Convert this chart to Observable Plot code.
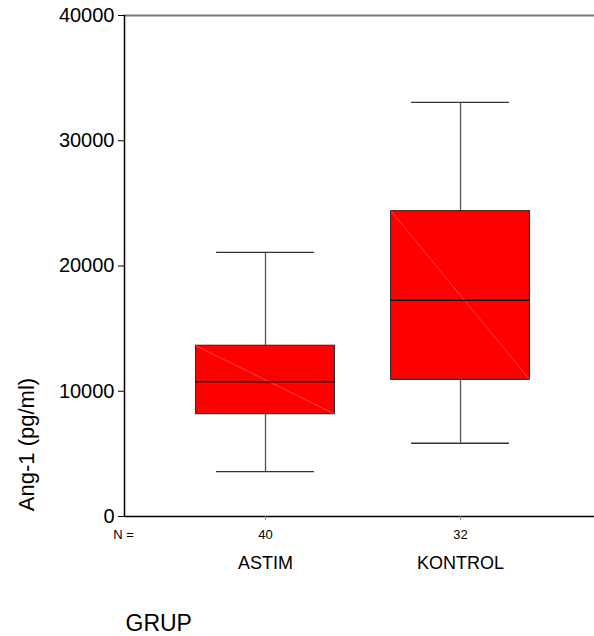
<!DOCTYPE html>
<html>
<head>
<meta charset="utf-8">
<script src="https://cdn.jsdelivr.net/npm/d3@7"></script>
<script src="https://cdn.jsdelivr.net/npm/@observablehq/plot@0.6"></script>
<style>
  html, body { margin: 0; padding: 0; background: #fff; overflow: hidden; }
  svg { display: block; font-family: "Liberation Sans", Arial, sans-serif; }
</style>
</head>
<body>
<div id="chart"></div>
<script>
// Data
const groups = ["ASTIM", "KONTROL"];
const counts = [40, 32];
const whiskerLow = [3590, 5850];
const q1 = [8170, 10910];
const median = [10750, 17250];
const q3 = [13630, 24380];
const whiskerHigh = [21080, 33060];
const yTicks = [0, 10000, 20000, 30000, 40000];

// layout constants (in x-units of group index)
const xDomain = [-0.723, 1.687];
const boxHalf = 0.356;
const capHalf = 0.251;

const rows = groups.map((g, i) => ({
  i, g, n: counts[i], lo: whiskerLow[i], q1: q1[i], med: median[i], q3: q3[i], hi: whiskerHigh[i]
}));

const chart = Plot.plot({
  width: 594,
  height: 636,
  marginLeft: 124,
  marginRight: 0,
  marginTop: 15,
  marginBottom: 120,
  style: { fontFamily: "'Liberation Sans', Arial, sans-serif", color: "#000", background: "#fff" },
  x: { type: "linear", domain: xDomain, axis: null },
  y: { domain: [0, 40000], axis: null },
  marks: [
    // whisker stems
    Plot.ruleX(rows, { x: "i", y1: "lo", y2: "hi", stroke: "#555", strokeWidth: 1.3 }),
    // whisker caps
    Plot.ruleY(rows, { y: "lo", x1: d => d.i - capHalf, x2: d => d.i + capHalf, stroke: "#333", strokeWidth: 1.3 }),
    Plot.ruleY(rows, { y: "hi", x1: d => d.i - capHalf, x2: d => d.i + capHalf, stroke: "#333", strokeWidth: 1.3 }),
    // boxes
    Plot.rect(rows, { x1: d => d.i - boxHalf, x2: d => d.i + boxHalf, y1: "q1", y2: "q3", fill: "#ff0000", stroke: "#333", strokeWidth: 1.2 }),
    // faint diagonal artefact
    Plot.link(rows, { x1: d => d.i - boxHalf, y1: "q3", x2: d => d.i + boxHalf, y2: "q1", stroke: "#ff7070", strokeWidth: 0.6 }),
    // medians
    Plot.ruleY(rows, { y: "med", x1: d => d.i - boxHalf, x2: d => d.i + boxHalf, stroke: "#000", strokeWidth: 1.2 }),
    // y axis
    Plot.axisY({ ticks: yTicks, tickFormat: d => String(d), tickSize: 6, tickPadding: 4, fontSize: 20, label: null, stroke: "#000" }),
    // top gray line
    Plot.ruleY([40000], { stroke: "#777", strokeWidth: 2.2 }),
    // bottom axis line
    Plot.ruleY([0], { stroke: "#000", strokeWidth: 1.5 }),
    // left axis line
    Plot.ruleX([xDomain[0]], { y1: 0, y2: 40000, stroke: "#000", strokeWidth: 1.5 }),
    // x axis: counts
    Plot.axisX({ ticks: [0, 1], tickFormat: i => counts[i], tickSize: 4, tickPadding: 9, fontSize: 13, label: null, stroke: "#888" }),
    // x axis: group names
    Plot.axisX({ ticks: [0, 1], tickFormat: i => groups[i], tickSize: 0, tickPadding: 40, fontSize: 18, label: null }),
    // N =
    Plot.text(["N ="], { frameAnchor: "bottom-left", dx: -1, dy: 13, lineAnchor: "top", textAnchor: "middle", fontSize: 13 }),
    // GRUP
    Plot.text(["GRUP"], { frameAnchor: "bottom-left", dx: 1, dy: 98, lineAnchor: "top", textAnchor: "start", fontSize: 23 }),
    // y label
    Plot.text(["Ang-1 (pg/ml)"], { frameAnchor: "bottom-left", dx: -91, dy: -72, rotate: -90, lineAnchor: "bottom", textAnchor: "middle", fontSize: 22 })
  ]
});
document.getElementById("chart").appendChild(chart);
</script>
</body>
</html>
